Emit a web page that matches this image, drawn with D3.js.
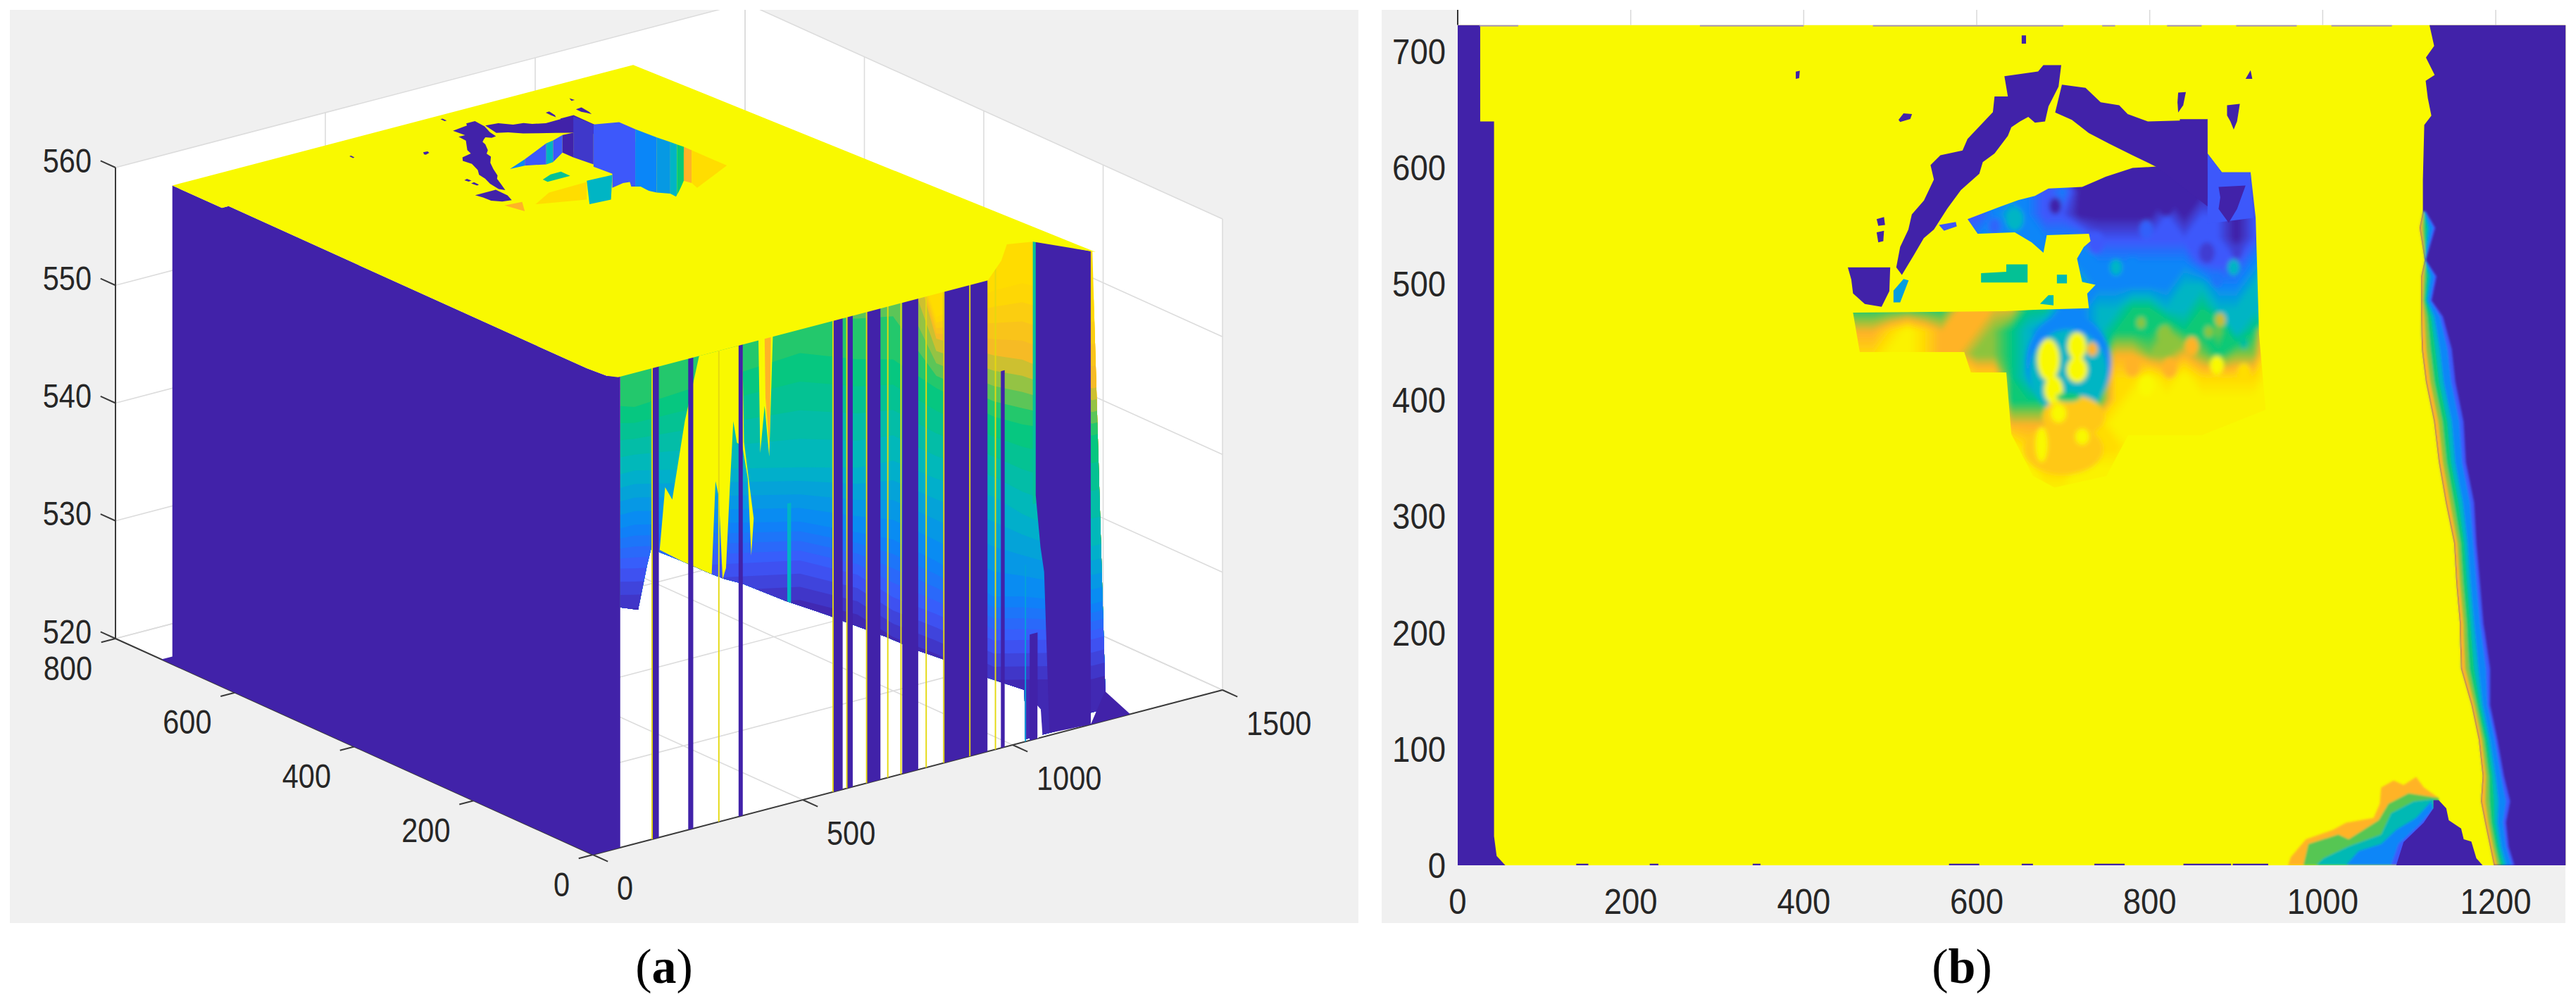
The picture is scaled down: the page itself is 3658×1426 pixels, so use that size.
<!DOCTYPE html>
<html><head><meta charset="utf-8">
<script src="https://cdn.jsdelivr.net/npm/d3@7"></script>
<style>html,body{margin:0;padding:0;background:#fff;overflow:hidden}svg{display:block}</style>
</head><body><svg id="c" width="3658" height="1426"></svg>
<script>
// ---------- shared colour levels (0 deep purple ... 8 yellow) ----------
const levelColors = ["#4122a9","#3d58fb","#0a86f8","#00b5c4","#07c976","#8cc43c","#ffb327","#ffdd00","#f9f900"];
const PURPLE = levelColors[0], YELLOW = levelColors[8];

// ---------- tick labels ----------
const bXTicks = [0,200,400,600,800,1000,1200];
const bYTicks = [0,100,200,300,400,500,600,700];
const aXTicks = [0,500,1000,1500];
const aYTicks = [0,200,400,600,800];
const aZTicks = [520,530,540,550,560];

// ---------- surface outline, [x,y] ----------
const rightEdgeY      = [723,705,695,680,675,660,645,637,590,562.4,548.5,520.7,506.8,486,472,444,416,381.6,347,312,277,242.5,207.7,199,169,138,108,77,55,37,16,0];
const rightEdgeYellow = [1123.4,1128.8,1119.3,1129.4,1119,1121.5,1125.6,1117.4,1115.8,1115.8,1112,1118,1113.9,1113.9,1113.9,1114.7,1119.4,1128.8,1134.3,1142.4,1152,1154.6,1158.7,1158.7,1160,1172,1180.5,1185,1183,1187.7,1193.5,1198];
const rightEdgePurple = [1123.4,1128.8,1119.3,1129.4,1119,1121.5,1125.6,1117.4,1115.8,1119.3,1130.2,1119.3,1131.6,1126,1139,1149.2,1153.3,1162.8,1165.5,1175,1177.7,1181.8,1185.8,1187.7,1193.5,1193.5,1202,1209.5,1216.7,1212,1215,1221.6];
const leftStrip  = [[0,0],[55,0],[45,8],[42,25],[42,640],[26,640],[26,723],[0,723]];
const plateLeft  = [[26,723],[26,640],[42,640],[42,40],[47,10],[60,0]];
const plateNotch = [[941,0],[1027,38],[1090,73],[1138,63],[1198,0]];
const plateBackCorner = [1124,723];

// dark pits in the surface
const leftArm = [[507,514.5],[511.5,532],[521,547],[525,560],[539,572],[550.5,590],[546.6,602.5],[558,611],[583.6,615],[589.4,625],[618.7,648],[620.6,661.5],[636,661.5],[632,679],[671,683],[677,688.4],[697.7,688.4],[694.6,670],[683,653],[679,640],[667.3,639],[659.6,644],[650,640],[640,635],[636,627.6],[620.6,612.5],[607,605],[603,595],[581.7,581],[566,565],[550.5,547],[538.8,539.6],[527,524.6],[513.5,508]];
const rightArm = [[698.5,671.6],[725.8,669],[743.3,656.5],[764.7,654],[774.5,646.4],[797.8,640],[834.8,640.7],[834.8,642],[866.8,642],[866.8,567],[807.6,601],[780,611],[753,621],[729.6,630],[710,641.4],[690.7,647.7]];
const leftBlock = [[451,514.5],[500,514.5],[499,494],[490,480.6],[470.6,483],[457,492],[455,504]];
const smallBlobs = [
 [[832.9,664.8],[841.8,665.3],[838.7,654],[832.9,647.7],[832.1,656.5]],
 [[889.4,654],[904.2,655.2],[901,640.2],[897.1,633.1],[893.2,640.2],[889.4,645.2]],
 [[916.6,684.1],[918.6,676.6],[910.8,676.6]],
 [[509.6,641.4],[515.4,646.9],[525.2,646.4],[523.2,642.2],[511.5,639.6]],
 [[484.3,556],[492.8,557.7],[494,551],[486.2,550.2]],
 [[484.3,544.6],[492.8,545.9],[492,537.1],[486.2,535.9]],
 [[390.8,682.9],[395.5,683.6],[394.7,677.3],[390.8,676.6]],
 [[652,714],[657,714],[657,707],[652,707]]
];

// ---------- panel (b): height levels of the central patch, one digit per 20 units ----------
const patchX0 = 440, patchY0 = 640, patchStep = 20;
const patchRows = [
 "000000000000000000000111188",
 "000000000000000000000011118",
 "111111111111100000000011188",
 "222222222222120000000000122",
 "111111111232110000010110122",
 "222222222222222111111110122",
 "222222222222222222222111233",
 "333333333333333222223322333",
 "444444466664422334433433333",
 "866787666543222344454453488",
 "877887665543333366556545588",
 "888888887743333377878777788",
 "888888888844444478888888888",
 "888888888866666788888888888",
 "888888888887777778888888888",
 "888888888888778888888888888",
 "888888888888888888888888888"
];
// mottled spots [x,y,radius,level]
const patchSpots = [[690.7,567.3,7,0],[819,567.3,9,0],[796,547,8,1.2],[737.5,536,10,1],[866,527,9,0.5],[901,528,6,0.5],[644,556,10,3],[620.6,549.7,7,1.3],[780,514.5,9,2],[897,514.5,7,3],[877.7,504.4,7,1.6],[761,514.5,7,3],[790,466.8,5,5],[881.6,469.3,6,5.5],[868,459,5,5],[817,456.7,8,5],[848.5,446.6,8,6],[909,449,5,3.5],[877.7,430.3,8,8],[823,428,9,6],[796,412.7,9,8],[909,424,8,7],[780,429,9,6]];
// oval feature [x,y,rx,ry,level], painted in order
const faceOvals = [[706,431.6,49,43,2],[706,424,45,37,3],[700,358,46,22,6.5],[712,386,36,18,6.5],[683,435,13,18,8],[716,446.6,11,12,8],[733.5,444,6,6,6],[716,426.5,12,11,8],[688.8,409,11,12,8],[706,402.7,14,4,4],[694.6,388.9,9,8,8],[675,362,7,15,8],[722,368.8,8,7,8]];
const patchOutline = [[807.6,601.2],[780.3,600],[749.1,592.4],[721.9,583.6],[682.9,582.3],[667.3,576],[647.9,572.3],[624.5,566],[589.4,556],[601.1,543.4],[644,544.6],[663.5,535.9],[677.1,527],[681,542.1],[729.7,543.4],[731.6,537.1],[723.8,532.1],[716,522],[721.9,501.9],[737.4,499.4],[727.7,491.9],[729.7,479.3],[667.3,478],[632.3,476.8],[457,475.5],[464.8,441.6],[585.6,441.6],[593.3,424],[634.2,424],[640,371],[665,335],[690,325],[750,335],[775,370],[860,370],[934,392],[926.4,456.7],[922.5,557.2],[916.6,596.2],[883.5,596.2],[866.8,612.5],[866.8,642.2]];
const royalBlock  = [[866.8,612.5],[883.5,596.2],[916.6,596.2],[919.7,557],[866.8,552]];
const innerPurple = [[879.6,583.6],[910.8,584.9],[901,564.8],[891.3,552.7],[879.6,564.8],[881.6,574.8]];
const islands = [
 {level:3.6, pts:[[605,509.5],[634.2,510.7],[634.2,517],[658.8,517],[658.8,501.4],[605,501.4]]},
 {level:3.2, pts:[[692.7,508.2],[704.3,508.2],[704.3,500.7],[692.7,500.7]]},
 {level:3.2, pts:[[673.2,483.1],[682.9,490.6],[688.8,490.6],[688.8,481.8]]},
 {level:1,   pts:[[556.3,551],[575.8,553.5],[577,549.7],[562.2,545.9]]},
 {level:2.5, pts:[[515.4,504.4],[521.3,503.2],[511.5,484.3],[503.8,484.3],[503.8,494.4]]}
];
// corner patch at the bottom of panel (b), outer to inner
const cornerBands = [
 {level:6,   pts:[[960,0],[963,7],[980.6,22.4],[1012,30.6],[1027,36.7],[1058.8,40.7],[1066,53],[1067.5,67],[1082,73],[1093.5,69],[1108,76],[1117,67],[1134,58],[1140,0]]},
 {level:4.6, pts:[[977.6,0],[983.5,18.4],[1018,26.5],[1030,22.4],[1064.6,38.7],[1076,53],[1099.3,62],[1134,58],[1140,0]]},
 {level:3.2, pts:[[992,0],[1000.8,6],[1030,16.3],[1067.5,26.5],[1079,44.8],[1105,55],[1128,57],[1140,0]]},
 {level:2,   pts:[[1027,0],[1041.4,12.3],[1067.5,18.4],[1085,30.6],[1108,40.7],[1125.4,55],[1140,0]]},
 {level:1,   pts:[[1079,0],[1087.7,18.4],[1111,34.6],[1128,49],[1140,0]]}
];
const cornerPurple = [[1085,0],[1093.5,20],[1116.7,36.7],[1128,49],[1128,56],[1134,56],[1142.8,49],[1145.7,38.7],[1160,31.6],[1163,22.4],[1171.8,20.4],[1177.6,6],[1184.8,0]];
const bottomDashes = [[137,151],[222,232],[341,350],[568,603],[652,665],[736,771],[839,894],[896,937]];
const topDashes = [[25,70],[280,400],[480,700],[745,760],[820,860],[900,970],[1010,1080]];

// ---------- panel (a): hanging curtain along y = 0 ----------
const curtainX   = [65,99,493,630,715,818,955,1023,1190,1224];
const zGoldStart = [570,570,570,570,570,558,559,559,556,556];
const zOrangeEnd = [570,570,570,570,570,556.2,553.5,552.5,548.5,548.5];
const zGreenEnd  = [557.5,557.1,558,556.2,555.4,552,548.3,547,544.5,544.5];
const zTealEnd   = [551.7,551.7,548.3,547,546.8,544.3,541.5,539.4,535.1,535.1];
const zAzureEnd  = [547.1,547.1,543.7,541.5,540.1,537.3,533,532.4,530.2,530.2];
const zRoyalEnd  = [543.7,543.4,540.4,537.9,535.2,532.8,529.3,528.7,527.2,527.2];
const curtainEdge = [[64.8,540.4],[107.6,539.8],[129,543.4],[140,544.9],[159,544.2],[210,543],[270,541.5],[313,540.5],[356,539.7],[458,537.3],[561,535.1],[604,534.1],[698,532],[775,530.1],[835,528.8],[938,526.3],[1028,524.4],[1030,520.2],[1186,520.2],[1186,521],[1222,521],[1190,560.15],[1054,562.3],[983,562.8],[946,560.5],[65,560.5]];
const yellowTongue = [[253,560],[219,554.8],[189,548.4],[172,549.6],[159,544.4],[210,543],[270,541.5],[283,541.2],[292,549],[300,547.6],[309,540.5],[317,541.4],[326,548],[334.4,553.7],[343,551.8],[356,551.4],[369,548.5],[377.2,541.9],[383,545],[360,551.7],[356,560]];
const yellowDrip = [[394.3,560.2],[398.6,550.4],[409,554.3],[420,549.9],[428.6,560.1]];
const orangeDrip = [[409,560.2],[411,555],[421,550.5],[424,560.2]];
const tealStreak = [[463,545.5],[472,545.5],[472,536.8],[463,536.8]];
const purpleStrips = [[140,157,561],[227,239,561],[347,357,561],[571,595,561],[604,619,561],[651,685,561],[737,775,561],[835,940,561],[972,981,552],[1040.6,1059.4,529]];
const yellowLines = [141,300,572,605,652,702.5,734,794,836,898,959];
const cyanLine = [[1029,520],[1032,520],[1032,535],[1029,535]];
const tealEdge = [[1048,562.4],[1056,562.3],[1056,540],[1048,540]];
const mainColumn = [[1055,562.3],[1055,540.7],[1066.3,536.2],[1075,534],[1087.7,520.2],[1186,520],[1186,560.2]];
const floorWedge = [[1186,520],[1220,522.5],[1280,520]];
const floorGap = [[1059,520],[1059,522.8],[1067,522.4],[1071,520.2]];

// ---------- panel (a): pit walls seen on the plate, [x,y] at the top level ----------
const pitStrips = [
 {level:0.4, pts:[[862.2,639.2],[865.4,607.6],[732.4,514.1],[725.3,543]]},
 {level:1,   pts:[[865.4,607.6],[911.8,597.4],[912.8,571],[693.7,417],[682.6,447.6],[729.5,480.6],[724.6,508.6]]},
 {level:2,   pts:[[912.8,571],[918,538.5],[734.1,409.3],[717.2,433.5]]},
 {level:2.4, pts:[[918,538.5],[922.7,519.2],[750.6,398.2],[734.1,409.3]]},
 {level:3,   pts:[[922.7,519.2],[925,509.6],[749,385.9],[750.6,398.2]]},
 {level:4,   pts:[[925,509.6],[927.4,500],[814,420.3],[752.9,388.6]]},
 {level:6,   pts:[[927.4,500],[927.9,486.8],[818.3,409.8],[814,420.3]]},
 {level:7,   pts:[[927.9,486.8],[929.9,429.5],[810.8,395.6],[818.3,409.8]]},
 {level:2,   pts:[[590.6,554.4],[645.8,568.4],[624.7,553.5]]},
 {level:1,   pts:[[645.8,568.4],[731.5,592.6],[661.1,543.1],[624.7,553.5]]},
 {level:3,   pts:[[731.5,592.6],[751.1,595],[679.1,544.4],[661.1,543.1]]},
 {level:1,   pts:[[751.1,595],[783.4,601.9],[724.7,560.7],[679.1,544.4]]},
 {level:0,   pts:[[783.4,601.9],[807.4,600.7],[725.3,543],[724.7,560.7]]},
 {level:3,   pts:[[667.5,479.8],[725.6,477.8],[641.5,420.9],[593.3,423]]},
 {level:7,   pts:[[571.3,475.4],[663.5,477],[604.9,435.8],[511.9,456.1]]},
 {level:6,   pts:[[461.1,472.4],[499.5,469.9],[472.2,446.3]]},
 {level:3.6, pts:[[605,509.5],[634.2,517],[658.8,517],[658.8,501.4],[605,501.4]]}
];
const pitBlobs = [[682.6,447.6],[714.5,452],[728.6,450.5],[715,438.7],[729.3,432.9],[726.1,408.2],[748.5,399.1],[697.7,363.3],[756.8,391.4],[806.1,414.8],[781.3,381.5],[732.3,349.2],[630.9,381.8],[643.5,420.1]];

// ---------- helpers ----------
const svg = d3.select("#c");
const defs = svg.append("defs");
const level = d3.scaleLinear().domain(d3.range(levelColors.length)).range(levelColors).interpolate(d3.interpolateRgb);
function blur(id,s){defs.append("filter").attr("id",id).attr("x","-10%").attr("y","-10%").attr("width","120%").attr("height","120%")
  .append("feGaussianBlur").attr("stdDeviation",s);}
blur("b1",1.6); blur("b3",3.2);
function label(g,t,x,y,size,sy,anchor){
  g.append("text").attr("transform",`translate(${x},${y}) scale(1,${sy})`).attr("text-anchor",anchor)
   .attr("dy","0.36em").attr("font-family","'Liberation Sans',Arial,sans-serif").attr("font-size",size)
   .attr("fill","#262626").text(t);
}
const panelFill = "#f0f0f0";

// ---------- panel (b) ----------
const bX = d3.scaleLinear([0,1281],[2070,3643.5]);
const bY = d3.scaleLinear([0,723],[1229,35.5]);
const bPath = pts => "M"+pts.map(p=>[bX(p[0]),bY(p[1])].join(",")).join("L")+"Z";

svg.append("rect").attr("x",1962).attr("y",14).attr("width",1681).attr("height",1297).attr("fill",panelFill);
svg.append("rect").attr("x",bX(0)).attr("y",14).attr("width",bX(1281)-bX(0)).attr("height",bY(723)-14).attr("fill","#fff");
const gb = svg.append("g");
bXTicks.slice(1).forEach(v=>gb.append("line").attr("x1",bX(v)).attr("x2",bX(v)).attr("y1",14).attr("y2",bY(723)).attr("stroke","#d8d8d8").attr("stroke-width",1.5));
gb.append("line").attr("x1",bX(0)).attr("x2",bX(0)).attr("y1",14).attr("y2",bY(723)).attr("stroke","#333").attr("stroke-width",2);

defs.append("clipPath").attr("id","plotb").append("rect").attr("x",bX(0)).attr("y",bY(723)).attr("width",bX(1281)-bX(0)).attr("height",bY(0)-bY(723));
const plot = gb.append("g").attr("clip-path","url(#plotb)");
plot.append("rect").attr("x",bX(0)).attr("y",bY(723)).attr("width",bX(1281)-bX(0)).attr("height",bY(0)-bY(723)).attr("fill",YELLOW);
plot.append("path").attr("fill",PURPLE).attr("d",bPath(leftStrip));

// right edge: purple field and graded band
const edge = rightEdgeY.map((y,i)=>({y,a:rightEdgeYellow[i],b:rightEdgePurple[i]}));
const bandFrac = [[1,1],[0.86,2],[0.6,3],[0.45,4],[0.28,5],[0.14,6]];
plot.append("path").attr("fill",PURPLE).attr("d",d3.area().y(d=>bY(d.y)).x0(d=>bX(d.a)).x1(()=>bX(1281))(edge));
const bandG = plot.append("g").attr("filter","url(#b1)");
const bandEdge = edge.filter(d=>d.y<=562.4);
bandFrac.forEach(([f,l])=>bandG.append("path").attr("fill",level(l)).attr("d",
   d3.area().y(d=>bY(d.y)).x0(d=>bX(d.a)).x1(d=>bX(d.a+f*(d.b-d.a)))(bandEdge)));

// corner patch
const cornerG = plot.append("g").attr("filter","url(#b1)");
cornerBands.forEach(b=>cornerG.append("path").attr("fill",level(b.level)).attr("d",bPath(b.pts)));
plot.append("path").attr("fill",PURPLE).attr("d",bPath(cornerPurple));

// central patch, contoured from the digit grid
const cols = patchRows[0].length, rows = patchRows.length;
const vals = patchRows.flatMap(r=>Array.from(r,Number));
const thresholds = d3.range(0.25,8,0.25);
const contours = d3.contours().size([cols,rows]).thresholds(thresholds).smooth(true)(vals);
const gridPath = d3.geoPath(d3.geoTransform({point(gx,gy){this.stream.point(bX(patchX0+patchStep*(gx-0.5)),bY(patchY0-patchStep*(gy-0.5)));}}));
defs.append("clipPath").attr("id","patchclip").append("path").attr("d",bPath(patchOutline));
const patchClip = plot.append("g").attr("clip-path","url(#patchclip)");
const patchG = patchClip.append("g").attr("filter","url(#b3)");
patchG.append("rect").attr("x",bX(patchX0-40)).attr("y",bY(patchY0+40)).attr("width",bX(1040)-bX(400)).attr("height",bY(280)-bY(680)).attr("fill",level(0));
contours.forEach(c=>patchG.append("path").attr("d",gridPath(c)).attr("fill",level(c.value)));
const pxPerX = bX(1)-bX(0), pxPerY = bY(0)-bY(1);
patchSpots.forEach(s=>patchG.append("ellipse").attr("cx",bX(s[0])).attr("cy",bY(s[1])).attr("rx",s[2]*pxPerX).attr("ry",s[2]*pxPerY).attr("fill",level(s[3])));
faceOvals.forEach(s=>patchG.append("ellipse").attr("cx",bX(s[0])).attr("cy",bY(s[1])).attr("rx",s[2]*pxPerX).attr("ry",s[3]*pxPerY).attr("fill",level(s[4])));
plot.append("path").attr("fill",level(1)).attr("d",bPath(royalBlock));
plot.append("path").attr("fill",PURPLE).attr("d",bPath(innerPurple));
islands.forEach(s=>plot.append("path").attr("fill",level(s.level)).attr("d",bPath(s.pts)));
[leftArm,rightArm,leftBlock,...smallBlobs].forEach(p=>plot.append("path").attr("fill",PURPLE).attr("d",bPath(p)));
// thin traces along the plot edges
bottomDashes.forEach(d=>plot.append("line").attr("x1",bX(d[0])).attr("x2",bX(d[1])).attr("y1",bY(0)-1).attr("y2",bY(0)-1).attr("stroke",PURPLE).attr("stroke-width",2.5));
topDashes.forEach(d=>plot.append("line").attr("x1",bX(d[0])).attr("x2",bX(d[1])).attr("y1",bY(723)+1).attr("y2",bY(723)+1).attr("stroke","#9c88c8").attr("stroke-width",2));
// labels
bXTicks.forEach(v=>label(gb,v,bX(v),1280,45.5,1.08,"middle"));
bYTicks.forEach(v=>label(gb,v,2053,bY(v),45.5,1.08,"end"));

// ---------- panel (a) ----------
const xToX = d3.scaleLinear([0,1500],[0,894]), xToY = d3.scaleLinear([0,1500],[0,-234]);
const yToX = d3.scaleLinear([0,800],[0,-678]), yToY = d3.scaleLinear([0,800],[0,-307]);
const zToY = d3.scaleLinear([520,560],[0,-669]);
const P = (x,y,z)=>[842+xToX(x)+yToX(y),1214+xToY(x)+yToY(y)+zToY(z)];
const poly3 = pts => "M"+pts.map(p=>P(p[0],p[1],p[2]).join(",")).join("L")+"Z";
const onPlate = pts => poly3(pts.map(p=>[p[0],p[1],560]));
const onWall  = pts => poly3(pts.map(p=>[p[0],0,p[1]]));

svg.append("rect").attr("x",14).attr("y",14).attr("width",1915).attr("height",1297).attr("fill",panelFill);
defs.append("clipPath").attr("id","panela").append("rect").attr("x",14).attr("y",14).attr("width",1915).attr("height",1297);
const ga = svg.append("g").attr("clip-path","url(#panela)");
ga.append("path").attr("fill","#fff").attr("d",poly3([[0,0,520],[1500,0,520],[1500,800,520],[0,800,520]]));
ga.append("path").attr("fill","#fff").attr("d",poly3([[0,800,520],[1500,800,520],[1500,800,560],[0,800,560]]));
ga.append("path").attr("fill","#fff").attr("d",poly3([[1500,800,520],[1500,0,520],[1500,0,560],[1500,800,560]]));
const gridLine = pts => ga.append("path").attr("fill","none").attr("stroke","#dcdcdc").attr("stroke-width",1.6)
  .attr("d","M"+pts.map(p=>P(p[0],p[1],p[2]).join(",")).join("L"));
aXTicks.forEach(v=>gridLine([[v,0,520],[v,800,520],[v,800,560]]));
aYTicks.forEach(v=>gridLine([[0,v,520],[1500,v,520],[1500,v,560]]));
aZTicks.forEach(v=>gridLine([[0,800,v],[1500,800,v],[1500,0,v]]));
gridLine([[1500,800,520],[1500,800,560]]);
// axes
const axis = pts => ga.append("path").attr("fill","none").attr("stroke","#3a3a3a").attr("stroke-width",2)
  .attr("d","M"+pts.map(p=>P(p[0],p[1],p[2]).join(",")).join("L"));
axis([[0,0,520],[1500,0,520]]); axis([[0,0,520],[0,800,520]]);
axis([[0,800,520],[0,800,560]]);
aXTicks.forEach(v=>axis([[v,0,520],[v,-25,520]]));
aYTicks.forEach(v=>axis([[0,v,520],[-34,v,520]]));
aZTicks.forEach(v=>axis([[0,800,v],[0,825,v]]));

// curtain
defs.append("clipPath").attr("id","curtainclip").append("path").attr("d",onWall(curtainEdge));
const curt = ga.append("g").attr("clip-path","url(#curtainclip)");
const cRows = curtainX.map((x,i)=>({x,b:[zGoldStart[i],zOrangeEnd[i],zGreenEnd[i],zTealEnd[i],zAzureEnd[i],zRoyalEnd[i]]}));
const stops = [["#ffdc00","#f5b62a"],["#e9bf26","#07c976"],["#07c976","#00b5c4"],["#00b5c4","#0a86f8"],["#0a86f8","#3d58fb"],["#3d58fb","#4122a9"]];
curt.append("path").attr("fill","#ffdc00").attr("d",d3.area().x(d=>P(d.x,0,520)[0]).y0(d=>P(d.x,0,518)[1]).y1(d=>P(d.x,0,572)[1])(cRows));
stops.forEach(([c0,c1],seg)=>{
  const steps = 4;
  for(let k=0;k<steps;k++){
    const f=k/steps, col=d3.interpolateRgb(c0,c1)((k+0.5)/steps);
    const zAt=d=>{const top=d.b[seg], bot=seg<5?d.b[seg+1]:d.b[5]-4.5; return top+(bot-top)*f;};
    curt.append("path").attr("fill",col).attr("d",d3.area()
      .x(d=>P(d.x,0,520)[0]).y0(d=>P(d.x,0,518)[1]).y1(d=>P(d.x,0,zAt(d))[1])(cRows));
  }
});
curt.append("path").attr("fill",level(3)).attr("d",onWall(tealStreak));
ga.append("path").attr("fill",YELLOW).attr("d",onWall(yellowTongue));
ga.append("path").attr("fill",YELLOW).attr("d",onWall(yellowDrip));
ga.append("path").attr("fill",level(6)).attr("d",onWall(orangeDrip));
// vertical strips reaching the floor
purpleStrips.forEach(s=>ga.append("path").attr("fill",PURPLE).attr("d",onWall([[s[0],520],[s[1],520],[s[1],s[2]],[s[0],s[2]]])));
yellowLines.forEach(x=>ga.append("path").attr("fill","#e4d90f").attr("d",onWall([[x-1.6,520],[x+1.6,520],[x+1.6,561],[x-1.6,561]])));
ga.append("path").attr("fill",level(2.6)).attr("d",onWall(cyanLine));
ga.append("path").attr("fill",level(3.5)).attr("d",onWall(tealEdge));
ga.append("path").attr("fill",PURPLE).attr("d",onWall(mainColumn));
ga.append("path").attr("fill",PURPLE).attr("d",onWall(floorWedge));
ga.append("path").attr("fill","#fff").attr("d",onWall(floorGap));

// left wall
ga.append("path").attr("fill",PURPLE).attr("d",poly3([
  [65,0,520],[0,0,520],[0,723,520],[26,723,520],
  [26,723,560],[26,640,560],[42,640,560],[42,40,560],[47,10,560],[65,0,560]]));

// plate (straight far edge)
ga.append("path").attr("fill",YELLOW).attr("d",onPlate([...plateLeft,...plateNotch,plateBackCorner]));
[leftArm,rightArm,leftBlock,...smallBlobs].forEach(p=>ga.append("path").attr("fill",PURPLE).attr("d",onPlate(p)));
pitStrips.forEach(s=>ga.append("path").attr("fill",level(s.level)).attr("d",onPlate(s.pts)));
ga.append("path").attr("fill",YELLOW).attr("d",onPlate(pitBlobs));

// labels of panel (a)
const lab = svg.append("g");
aZTicks.forEach(v=>label(lab,v,130,P(0,800,v)[1]-11,41.5,1.18,"end"));
aYTicks.forEach(v=>{const p=P(0,v,520);label(lab,v,p[0]-33,p[1]+41,41.5,1.18,"end");});
aXTicks.forEach(v=>{const p=P(v,0,520);label(lab,v,p[0]+34,p[1]+46,41.5,1.18,"start");});

// captions
[["a",943],["b",2786]].forEach(([c,x])=>{
  const t=svg.append("text").attr("x",x).attr("y",1396).attr("text-anchor","middle")
    .attr("font-family","'Liberation Serif','Times New Roman',serif").attr("font-size",70).attr("fill","#000");
  t.append("tspan").text("(");
  t.append("tspan").attr("font-weight","bold").text(c);
  t.append("tspan").text(")");
});
</script></body></html>
